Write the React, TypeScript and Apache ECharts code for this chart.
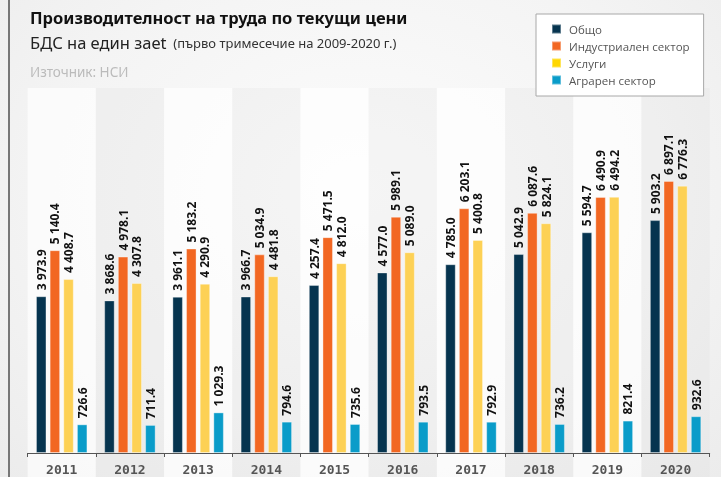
import React, { useEffect, useRef } from "react";
import * as echarts from "echarts";

const years = ["2011", "2012", "2013", "2014", "2015", "2016", "2017", "2018", "2019", "2020"];
const obshto = [3973.9, 3868.6, 3961.1, 3966.7, 4257.4, 4577.0, 4785.0, 5042.9, 5594.7, 5903.2];
const industrial = [5140.4, 4978.1, 5183.2, 5034.9, 5471.5, 5989.1, 6203.1, 6087.6, 6490.9, 6897.1];
const services = [4408.7, 4307.8, 4290.9, 4481.8, 4812.0, 5089.0, 5400.8, 5824.1, 6494.2, 6776.3];
const agrarian = [726.6, 711.4, 1029.3, 794.6, 735.6, 793.5, 792.9, 736.2, 821.4, 932.6];

const seriesNames = ["Общо", "Индустриален сектор", "Услуги", "Аграрен сектор"];
const barColors = ["#06344f", "#f26722", "#fdd155", "#0a9cc9"];
const legendColors = ["#06344f", "#f26722", "#ffd700", "#0a9cc9"];

const fmt = (v: number) => {
  const [i, d] = v.toFixed(1).split(".");
  return i.replace(/\B(?=(\d{3})+(?!\d))/g, " ") + "." + d;
};

const bandColors = ["rgba(255,255,255,0.65)", "rgba(215,215,215,0.18)"];

export default function App() {
  const ref = useRef<HTMLDivElement>(null);
  useEffect(() => {
    if (!ref.current) return;
    const chart = echarts.init(ref.current, null, { renderer: "svg" });
    const data = [obshto, industrial, services, agrarian];
    chart.setOption({
      animation: false,
      backgroundColor: "transparent",
      grid: [
        { left: 27.6, right: 11.3, top: 88, bottom: 24, containLabel: false, outerBoundsMode: "none" },
        { left: 27.6, right: 11.3, top: 453, bottom: 0, containLabel: false, outerBoundsMode: "none" },
      ],
      legend: {
        orient: "vertical",
        left: 536,
        top: 14,
        data: seriesNames.map((n, i) => ({ name: n, itemStyle: { color: legendColors[i] } })),
        icon: "rect",
        itemWidth: 9,
        itemHeight: 9,
        itemGap: 3,
        padding: [8, 14, 9, 15],
        backgroundColor: "#ffffff",
        borderColor: "#a8a8a8",
        borderWidth: 1,
        borderRadius: 0,
        textStyle: {
          color: "#555555",
          fontSize: 11.5,
          fontFamily: "Open Sans",
          lineHeight: 14,
          padding: [0, 0, 0, 3],
        },
      },
      xAxis: [
        {
          type: "category",
          gridIndex: 0,
          data: years,
          axisLine: { show: true, lineStyle: { color: "#555555", width: 1 } },
          axisTick: { show: true, length: 4, lineStyle: { color: "#555555" } },
          axisLabel: { show: false },
          splitArea: { show: true, areaStyle: { color: bandColors } },
        },
        {
          type: "category",
          gridIndex: 1,
          position: "top",
          data: years,
          axisLine: { show: false },
          axisTick: { show: false },
          axisLabel: {
            inside: true,
            margin: 10,
            color: "#555555",
            fontSize: 13,
            fontWeight: "bold",
            fontFamily: "DejaVu Sans Mono",
          },
          splitArea: { show: true, areaStyle: { color: bandColors } },
        },
      ],
      yAxis: [
        { type: "value", gridIndex: 0, min: 0, max: 9252, show: false, splitLine: { show: false } },
        { type: "value", gridIndex: 1, min: 0, max: 1, show: false, splitLine: { show: false } },
      ],
      graphic: [
        { type: "rect", left: 8, top: 0, shape: { width: 2, height: 477 }, style: { fill: "#777777" } },
        {
          type: "text",
          left: 30,
          top: 9,
          style: { text: "Производителност на труда по текущи цени", fontSize: 16.5, fontWeight: "bold", fontFamily: "Noto Sans", fill: "#111111" },
        },
        {
          type: "text",
          left: 30,
          top: 34,
          style: {
            text: "{a|БДС на един заеt}{b|  (първо тримесечие на 2009-2020 г.)}",
            rich: {
              a: { fontSize: 16.5, fontFamily: "Noto Sans", fill: "#222222", color: "#222222" },
              b: { fontSize: 13, fontFamily: "Noto Sans", fill: "#333333", color: "#333333" },
            },
          },
        },
        {
          type: "text",
          left: 30,
          top: 65,
          style: { text: "Източник: НСИ", fontSize: 13.5, fontFamily: "Noto Sans", fill: "#bbbbbb" },
        },
      ],
      series: seriesNames.map((name, i) => ({
        name,
        type: "bar",
        xAxisIndex: 0,
        yAxisIndex: 0,
        data: data[i],
        barWidth: 10.5,
        barGap: "30%",
        itemStyle: { color: barColors[i], borderColor: "rgba(255,255,255,0.35)", borderWidth: 1 },
        label: {
          show: true,
          position: "top",
          rotate: 90,
          align: "left",
          verticalAlign: "middle",
          distance: 6,
          fontSize: 12,
          fontWeight: "bold",
          fontFamily: "Open Sans",
          color: "#111111",
          formatter: (p: any) => fmt(p.value),
        },
      })),
    });
    return () => chart.dispose();
  }, []);
  return (
    <div
      style={{
        position: "fixed",
        left: 0,
        top: 0,
        width: 721,
        height: 477,
        background: "radial-gradient(ellipse at 50% 40%, #fcfcfc 0%, #f4f4f4 60%, #ececec 100%)",
      }}
    >
      <div ref={ref} style={{ width: 721, height: 477 }} />
    </div>
  );
}
